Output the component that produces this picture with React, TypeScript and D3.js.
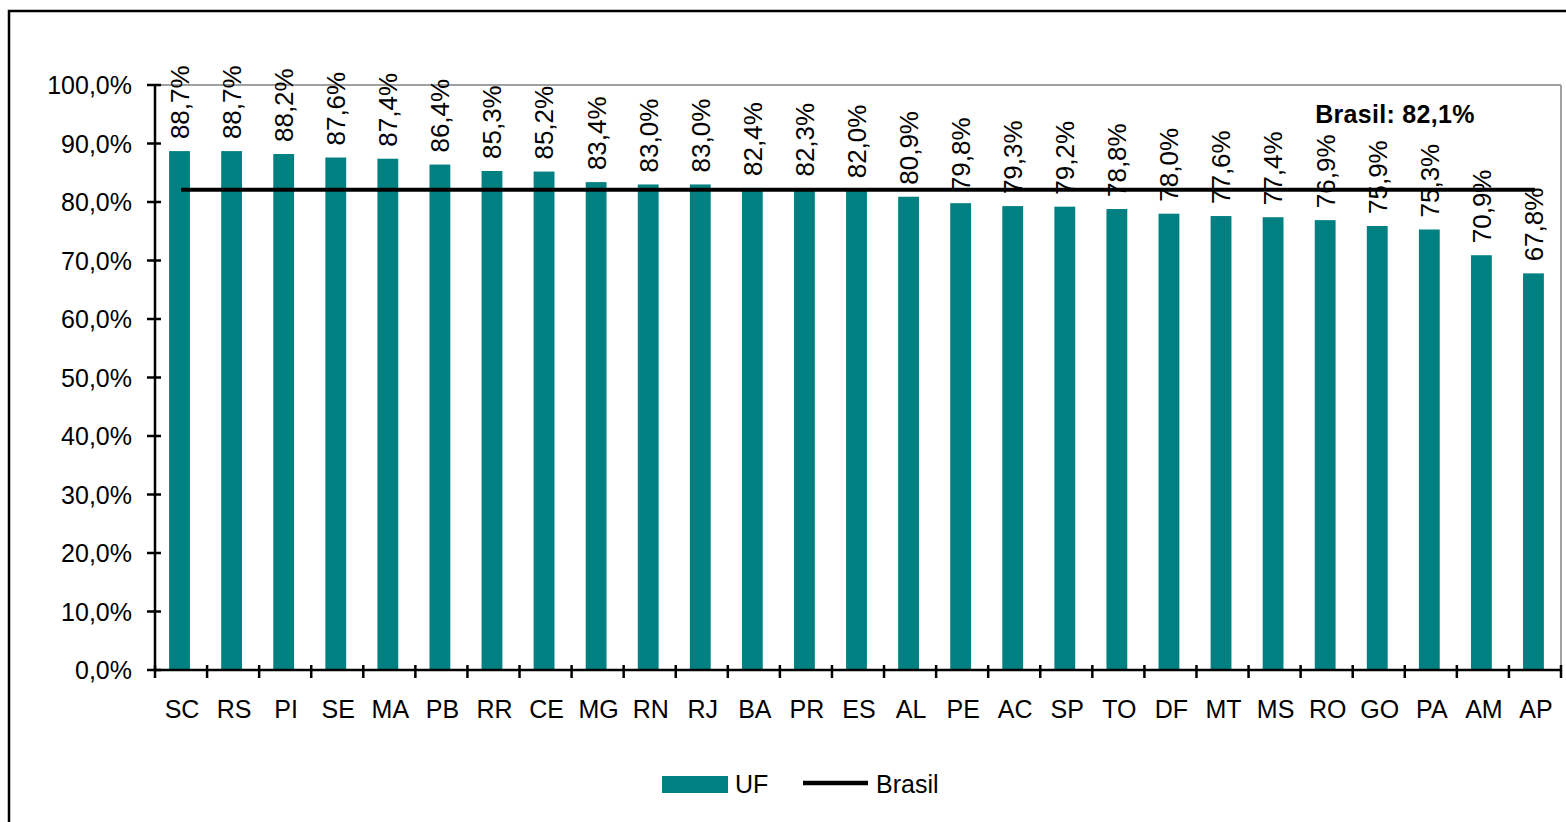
import React from "react";
import * as d3 from "d3";

const categories = ["SC","RS","PI","SE","MA","PB","RR","CE","MG","RN","RJ","BA","PR","ES","AL","PE","AC","SP","TO","DF","MT","MS","RO","GO","PA","AM","AP"];
const ufValues = [88.7,88.7,88.2,87.6,87.4,86.4,85.3,85.2,83.4,83.0,83.0,82.4,82.3,82.0,80.9,79.8,79.3,79.2,78.8,78.0,77.6,77.4,76.9,75.9,75.3,70.9,67.8];
const brasilValue = 82.1;
const yTicks = [0,10,20,30,40,50,60,70,80,90,100];
const brasilLabel = "Brasil: 82,1%";
const legendLabels = ["UF", "Brasil"];

const W = 1566, H = 822;
const left = 155, right = 1561, top = 85, bottom = 670;
const FONT = "'Liberation Sans', Arial, sans-serif";
const TEAL = "#008080";

const fmt = (v: number) => v.toFixed(1).replace(".", ",") + "%";

export default function App() {
  const x = d3.scaleBand<string>().domain(categories).range([left, right]).paddingInner(0.6).paddingOuter(0.3);
  const xb = d3.scaleBand<string>().domain(categories).range([left, right]);
  const y = d3.scaleLinear().domain([0, 100]).range([bottom, top]);
  const bw = x.bandwidth();
  const shift = -1.5;
  const cx = (c: string) => (x(c) as number) + bw / 2;
  const boundaries = categories.map((c) => xb(c) as number).concat([right]);
  const yb = y(brasilValue);

  return (
    <svg width={W} height={H} style={{ position: "absolute", left: 0, top: 0, background: "#fff" }} fontFamily={FONT}>
      <rect x={9} y={11} width={1700} height={1000} fill="none" stroke="#000" strokeWidth={2.5} />
      {/* plot area border */}
      <line x1={left} x2={right} y1={top} y2={top} stroke="#a0a0a0" strokeWidth={2} />
      <line x1={right} x2={right} y1={top} y2={bottom} stroke="#a0a0a0" strokeWidth={2} />
      {/* bars */}
      {categories.map((c, i) => (
        <rect key={c} x={(x(c) as number) + shift} y={y(ufValues[i])} width={bw} height={bottom - y(ufValues[i])} fill={TEAL} />
      ))}
      {/* brasil line */}
      <line x1={cx(categories[0])} x2={cx(categories[categories.length - 1])} y1={yb} y2={yb} stroke="#000" strokeWidth={4} />
      {/* value labels */}
      {categories.map((c, i) => (
        <text key={c} transform={`translate(${cx(c) + shift},${y(ufValues[i]) - 12}) rotate(-90)`} dy="0.36em" fontSize={26} fill="#000" textAnchor="start">
          {fmt(ufValues[i])}
        </text>
      ))}
      {/* axes */}
      <line x1={left} x2={left} y1={top} y2={bottom} stroke="#000" strokeWidth={2.5} />
      <line x1={left} x2={right} y1={bottom} y2={bottom} stroke="#000" strokeWidth={2.5} />
      {yTicks.map((t) => (
        <g key={t}>
          <line x1={147} x2={161} y1={y(t)} y2={y(t)} stroke="#000" strokeWidth={2.5} />
          <text x={132} y={y(t)} dy="0.36em" fontSize={25} textAnchor="end" fill="#000">{fmt(t)}</text>
        </g>
      ))}
      {boundaries.map((b, i) => (
        <line key={i} x1={b} x2={b} y1={665} y2={678} stroke="#000" strokeWidth={2.5} />
      ))}
      {categories.map((c) => (
        <text key={c} x={cx(c) + 1} y={718} fontSize={25} textAnchor="middle" fill="#000">{c}</text>
      ))}
      {/* brasil annotation */}
      <text x={1395} y={123} fontSize={25} fontWeight="bold" textAnchor="middle" fill="#000" letterSpacing={0.3}>{brasilLabel}</text>
      {/* legend */}
      <rect x={662} y={776} width={66} height={17} fill={TEAL} />
      <text x={735} y={793} fontSize={25} fill="#000">{legendLabels[0]}</text>
      <line x1={803} x2={868} y1={783} y2={783} stroke="#000" strokeWidth={4.5} />
      <text x={876} y={793} fontSize={25} fill="#000">{legendLabels[1]}</text>
    </svg>
  );
}
